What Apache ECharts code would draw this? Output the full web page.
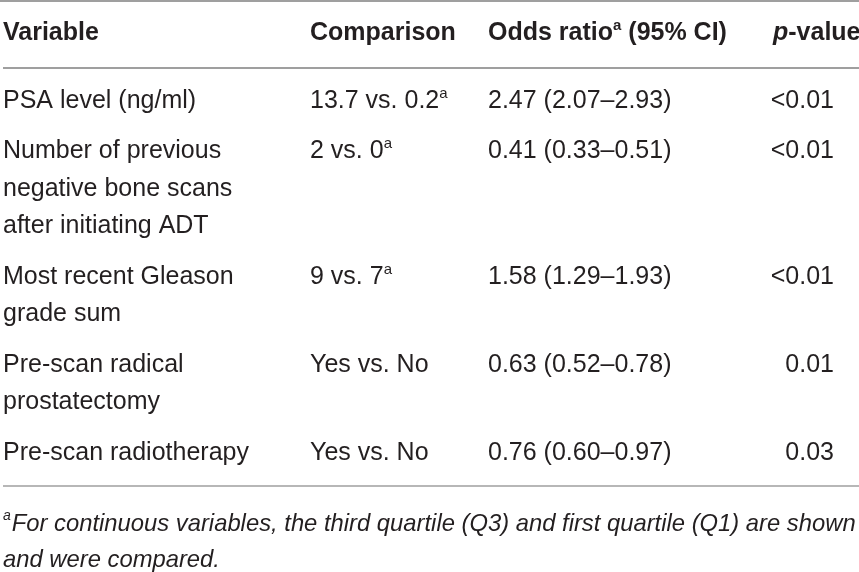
<!DOCTYPE html>
<html>
<head>
    <meta charset="utf-8">
    <title>Odds ratio table</title>
    <script src="https://cdn.jsdelivr.net/npm/echarts@6/dist/echarts.min.js"></script>
    <style>
        html, body { margin: 0; padding: 0; background: #fff; }
        #main { width: 859px; height: 572px; }
    </style>
</head>
<body>
    <div id="main"></div>
    <script type="text/javascript">
        // table content
        var headers = ['Variable', 'Comparison', 'Odds ratio{hsup|a} (95% CI)', '{hit|p}-value'];
        var variables = [
            ['PSA level (ng/ml)'],
            ['Number of previous', 'negative bone scans', 'after initiating ADT'],
            ['Most recent Gleason', 'grade sum'],
            ['Pre-scan radical', 'prostatectomy'],
            ['Pre-scan radiotherapy']
        ];
        var comparisons = ['13.7 vs. 0.2', '2 vs. 0', '9 vs. 7', 'Yes vs. No', 'Yes vs. No'];
        var comparisonMark = [true, true, true, false, false];
        var oddsRatio = ['2.47', '0.41', '1.58', '0.63', '0.76'];
        var ciLow = ['2.07', '0.33', '1.29', '0.52', '0.60'];
        var ciHigh = ['2.93', '0.51', '1.93', '0.78', '0.97'];
        var pValues = ['<0.01', '<0.01', '<0.01', '0.01', '0.03'];
        var footnote = [
            '{fsup|a}{fit|For continuous variables, the third quartile (Q3) and first quartile (Q1) are shown}',
            '{fit|and were compared.}'
        ];

        // layout
        var colX = [3, 310, 488, 834];
        var pHeaderX = 773;
        var headerY = 33;
        var firstLineY = 101;
        var lineStep = 37.5;
        var rowGap = 13;
        var footY = [524, 560];
        var ruleY = [1, 68, 486];
        var ink = '#231f20';
        var fontFamily = '"Liberation Sans", Arial, sans-serif';

        var rich = {
            hsup: { fontSize: 15, fontWeight: 'bold', fontFamily: fontFamily, color: ink, verticalAlign: 'top', lineHeight: 20 },
            hit: { fontSize: 25, fontWeight: 'bold', fontStyle: 'italic', fontFamily: fontFamily, color: ink, lineHeight: 30 },
            sup: { fontSize: 15, fontFamily: fontFamily, color: ink, verticalAlign: 'top', lineHeight: 20 },
            fsup: { fontSize: 14, fontStyle: 'italic', fontFamily: fontFamily, color: ink, verticalAlign: 'top', lineHeight: 18, padding: [0, 1, 0, 0] },
            fit: { fontSize: 23.8, fontStyle: 'italic', fontFamily: fontFamily, color: ink, lineHeight: 30 }
        };

        // one entry per text line of the table
        var cells = [];
        headers.forEach(function (h, c) {
            cells.push({ value: [c === 3 ? pHeaderX : colX[c], headerY], text: h, bold: true, align: 'left' });
        });
        var lineIdx = 0;
        variables.forEach(function (lines, r) {
            var y0 = firstLineY + lineIdx * lineStep + r * rowGap;
            lines.forEach(function (t, k) {
                cells.push({ value: [colX[0], y0 + k * lineStep], text: t, align: 'left' });
            });
            cells.push({ value: [colX[1], y0], text: comparisons[r] + (comparisonMark[r] ? '{sup|a}' : ''), align: 'left' });
            cells.push({ value: [colX[2], y0], text: oddsRatio[r] + ' (' + ciLow[r] + '\u2013' + ciHigh[r] + ')', align: 'left' });
            cells.push({ value: [colX[3], y0], text: pValues[r], align: 'right' });
            lineIdx += lines.length;
        });
        footnote.forEach(function (t, k) {
            cells.push({ value: [colX[0], footY[k]], text: t, align: 'left' });
        });

        var myChart = echarts.init(document.getElementById('main'));
        myChart.setOption({
            animation: false,
            grid: { left: 0, right: 0, top: 0, bottom: 0 },
            xAxis: { type: 'value', min: 0, max: 859, show: false },
            yAxis: { type: 'value', min: 0, max: 572, inverse: true, show: false },
            series: [
                {
                    type: 'custom',
                    data: ruleY.map(function (y) { return [y]; }),
                    renderItem: function (params, api) {
                        var y = api.value(0);
                        var p1 = api.coord([params.dataIndex === 0 ? 0 : 3, y]);
                        var p2 = api.coord([859, y]);
                        return {
                            type: 'line',
                            shape: { x1: p1[0], y1: p1[1], x2: p2[0], y2: p2[1] },
                            style: { stroke: '#9f9f9f', lineWidth: params.dataIndex === 2 ? 1.5 : 2 }
                        };
                    }
                },
                {
                    type: 'custom',
                    data: cells,
                    renderItem: function (params, api) {
                        var cell = cells[params.dataIndex];
                        var pt = api.coord([api.value(0), api.value(1)]);
                        return {
                            type: 'text',
                            x: pt[0],
                            y: pt[1],
                            style: {
                                text: cell.text,
                                fill: ink,
                                fontSize: 25,
                                fontFamily: fontFamily,
                                fontWeight: cell.bold ? 'bold' : 'normal',
                                align: cell.align,
                                verticalAlign: 'middle',
                                lineHeight: 30,
                                rich: rich
                            }
                        };
                    }
                }
            ]
        });
    </script>
</body>
</html>
